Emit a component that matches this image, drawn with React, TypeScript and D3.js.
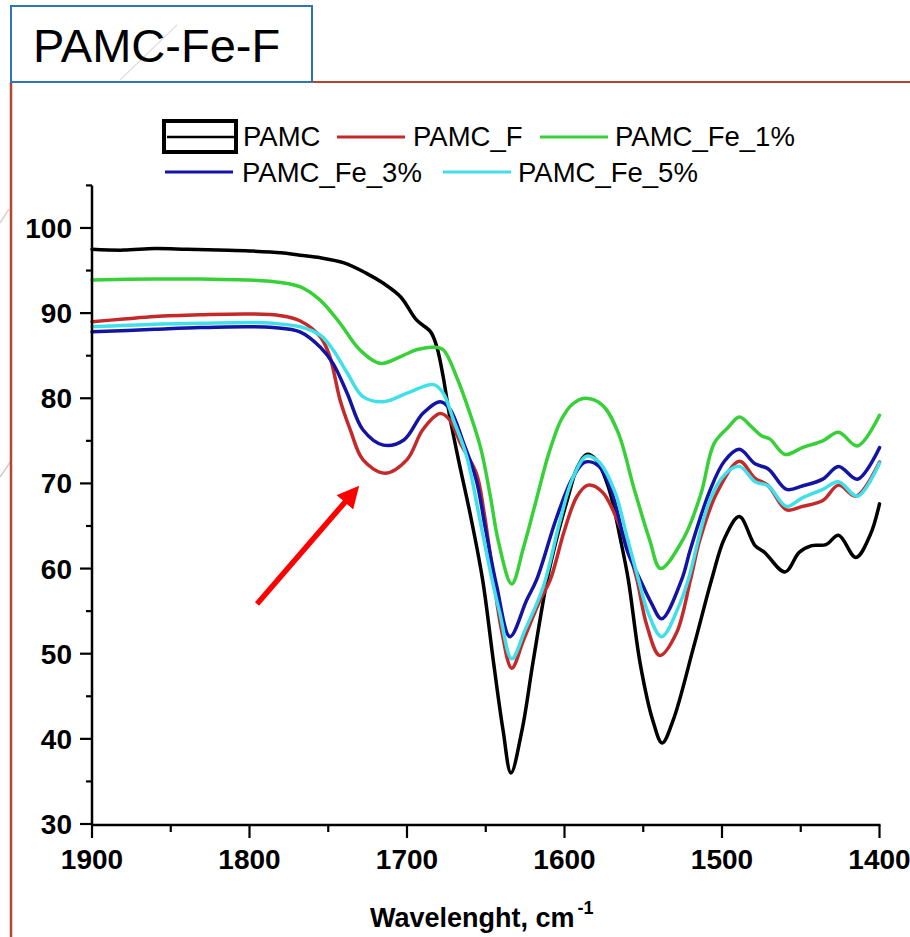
import React from "react";
import * as d3 from "d3";

const X_TICKS = [1900, 1800, 1700, 1600, 1500, 1400];
const X_MINOR = [1850, 1750, 1650, 1550, 1450];
const Y_TICKS = [30, 40, 50, 60, 70, 80, 90, 100];
const Y_MINOR = [35, 45, 55, 65, 75, 85, 95, 105];

const PAMC: [number, number][] = [
  [1900, 97.5], [1880, 97.4], [1860, 97.6], [1840, 97.5], [1820, 97.4], [1800, 97.3], [1780, 97.1],
  [1768, 96.8], [1755, 96.5], [1740, 95.9], [1726, 94.7], [1715, 93.5], [1704, 91.9], [1694, 89.2],
  [1685, 87.8], [1681, 86.0], [1677, 82.5], [1673, 78], [1667, 72.5], [1660, 66.5], [1652, 58.7],
  [1645, 48.9], [1639, 41], [1634, 36.0], [1627, 41], [1620, 49], [1611, 58.7], [1605, 63.5],
  [1598, 68.2], [1592, 71.8], [1586, 73.4], [1580, 72.8], [1572, 69.5], [1564, 63], [1559.5, 58.7],
  [1552, 48.9], [1544, 42.2], [1538, 39.5], [1531, 42.2], [1518, 50.8], [1506, 59.1], [1498.5, 63.5],
  [1489, 66.1], [1479, 62.7], [1473, 61.9], [1460, 59.6], [1451, 61.9], [1443, 62.7], [1434, 62.8],
  [1426, 63.9], [1415, 61.3], [1406, 63.9], [1400, 67.6],
];

const PAMC_F: [number, number][] = [
  [1900, 89.0], [1880, 89.3], [1860, 89.6], [1831, 89.8], [1800, 89.9], [1780, 89.7], [1768, 89.1],
  [1755, 87.2], [1749, 84.9], [1742.5, 79.8], [1736, 76.3], [1728, 72.8], [1714, 71.2], [1700, 72.8],
  [1690, 76.3], [1679, 78.2], [1673, 77.5], [1666, 74.7], [1656, 71.2], [1651, 66.5], [1645, 58.7],
  [1640, 52.8], [1633.5, 48.3], [1626, 51.6], [1615.5, 56.3], [1609, 58.7], [1600, 64.5], [1592, 68.5],
  [1585, 69.8], [1576, 69], [1566, 65.5], [1560, 62.5], [1554, 58.7], [1548, 53.5], [1539.5, 49.8],
  [1529, 52.4], [1520, 58.7], [1514, 63.4], [1503, 69.0], [1489, 72.6], [1479, 70.6], [1471, 69.8],
  [1459, 66.9], [1449, 67.3], [1436, 68.0], [1426, 69.8], [1415, 68.5], [1400, 72.5],
];

const PAMC_FE_1: [number, number][] = [
  [1900, 93.9], [1860, 94.0], [1830, 94.0], [1800, 93.9], [1780, 93.6], [1768, 93.1], [1755, 91.5],
  [1742.5, 88.8], [1730, 85.7], [1717, 84.1], [1704, 84.9], [1694, 85.7], [1683, 86.0], [1677, 85.7],
  [1668.5, 82.5], [1660, 78.2], [1653, 74.0], [1647, 68.4], [1642, 63.2], [1633.5, 58.2], [1626, 62.5],
  [1618, 68], [1610, 73.5], [1602, 77.5], [1595, 79.3], [1587, 80.0], [1576, 79.2], [1566, 76.0],
  [1556, 69.5], [1546, 63.4], [1539, 60.0], [1524.5, 63.5], [1513.5, 68.7], [1505, 74.7], [1496, 76.6],
  [1489, 77.8], [1481, 76.6], [1475, 75.6], [1469.5, 75.2], [1460, 73.4], [1449, 74.2], [1436, 75.0],
  [1426, 76.0], [1414, 74.4], [1400, 78.0],
];

const PAMC_FE_3: [number, number][] = [
  [1900, 87.8], [1860, 88.1], [1831, 88.3], [1800, 88.4], [1785, 88.3], [1768, 87.8], [1755, 86.0],
  [1747, 84.1], [1738, 80.6], [1728, 76.3], [1715, 74.5], [1702, 75.1], [1690, 78.2], [1679, 79.6],
  [1673, 78.8], [1664, 74.7], [1656, 70.4], [1650, 64.5], [1643, 57.9], [1634.6, 52.0], [1624, 56.3],
  [1617.7, 58.7], [1605, 66], [1595, 70.6], [1587, 72.5], [1578, 72], [1570, 69], [1560, 62],
  [1552, 58.7], [1545, 56], [1538.3, 54.1], [1525.6, 58.7], [1520, 62.3], [1508, 69.0], [1498.5, 72.6],
  [1489, 74.0], [1479, 72.3], [1470.6, 71.7], [1459, 69.3], [1449, 69.7], [1436, 70.5], [1426, 72.0],
  [1414, 70.5], [1400, 74.2],
];

const PAMC_FE_5: [number, number][] = [
  [1900, 88.4], [1860, 88.7], [1831, 88.8], [1800, 88.9], [1785, 88.8], [1768, 88.4], [1755, 87.4],
  [1747, 85.7], [1738, 83.0], [1728, 80.2], [1715, 79.6], [1700, 80.6], [1683, 81.6], [1677, 80.6],
  [1670.6, 77.5], [1662, 73.1], [1654, 66], [1646, 58.7], [1641, 54.7], [1633.5, 49.4], [1625, 52.8],
  [1613.4, 57.9], [1603, 65.5], [1595, 70.5], [1586, 73.2], [1578, 72.5], [1568, 69], [1560, 63.5],
  [1553, 58.7], [1546.7, 54.7], [1538.3, 52.0], [1526.7, 55.9], [1521.4, 58.7], [1508, 67.9],
  [1498.5, 71.0], [1489, 72.0], [1479, 70.2], [1470.6, 69.7], [1459, 67.3], [1449, 68.3], [1436, 69.3],
  [1426, 70.2], [1414, 68.5], [1400, 72.4],
];

const SERIES_NAMES = ["PAMC", "PAMC_F", "PAMC_Fe_1%", "PAMC_Fe_3%", "PAMC_Fe_5%"];
const SERIES_DATA = [PAMC, PAMC_F, PAMC_FE_1, PAMC_FE_3, PAMC_FE_5];
const SERIES_COLORS = ["#000000", "#C42A2A", "#38D038", "#1414A4", "#40E0EA"];

const FONT = "'Liberation Sans', Arial, Helvetica, sans-serif";

export default function App() {
  const W = 910, H = 937;
  const x = d3.scaleLinear().domain([1900, 1400]).range([92, 879.5]);
  const y = d3.scaleLinear().domain([30, 105]).range([824, 185.4]);
  const line = d3
    .line<[number, number]>()
    .x((d) => x(d[0]))
    .y((d) => y(d[1]))
    .curve(d3.curveCatmullRom.alpha(0.5));

  const axisY = y(30) + 1;
  const legendItems = [
    { i: 0, lx: 167, tx: 243, ly: 137, ty: 146 },
    { i: 1, lx: 337, tx: 413, ly: 137, ty: 146 },
    { i: 2, lx: 540, tx: 615, ly: 137, ty: 146 },
    { i: 3, lx: 165, tx: 242, ly: 172, ty: 182 },
    { i: 4, lx: 443, tx: 518, ly: 172, ty: 182 },
  ];

  return (
    <svg
      width={W}
      height={H}
      style={{ position: "absolute", left: 0, top: 0, background: "#fff" }}
      fontFamily={FONT}
    >
      <rect x={0} y={0} width={W} height={H} fill="#fff" />
      <line x1={0} y1={223} x2={9} y2={209} stroke="#d6d3cc" strokeWidth={1.5} />
      <line x1={0} y1={477} x2={11} y2={461} stroke="#cfcbc2" strokeWidth={1.5} />
      <line x1={11} y1={82} x2={910} y2={82} stroke="#B8452A" strokeWidth={2} />
      <line x1={11} y1={82} x2={11} y2={937} stroke="#B8452A" strokeWidth={2.5} />
      <rect x={11} y={6} width={301} height={76} fill="#fff" stroke="#2E75B6" strokeWidth={2} />
      <line x1={120} y1={80} x2={177} y2={25} stroke="#e2e0da" strokeWidth={1.2} />
      <text x={33} y={62} fontSize={47} fill="#000">PAMC-Fe-F</text>

      {SERIES_DATA.map((d, i) => (
        <path
          key={SERIES_NAMES[i]}
          d={line(d) || ""}
          fill="none"
          stroke={SERIES_COLORS[i]}
          strokeWidth={3.5}
          strokeLinejoin="round"
          strokeLinecap="round"
        />
      ))}

      <line x1={x(1900)} y1={y(105)} x2={x(1900)} y2={axisY} stroke="#000" strokeWidth={2.5} />
      <line x1={x(1900) - 1} y1={axisY} x2={x(1400) + 1} y2={axisY} stroke="#000" strokeWidth={2.5} />
      {Y_TICKS.map((t) => (
        <g key={"yt" + t}>
          <line x1={x(1900) - 12} x2={x(1900)} y1={y(t)} y2={y(t)} stroke="#000" strokeWidth={2.2} />
          <text x={72} y={y(t) + 10} fontSize={28} fontWeight="bold" textAnchor="end" fill="#000">
            {t}
          </text>
        </g>
      ))}
      {Y_MINOR.map((t) => (
        <line key={"ym" + t} x1={x(1900) - 6} x2={x(1900)} y1={y(t)} y2={y(t)} stroke="#000" strokeWidth={2.2} />
      ))}
      {X_TICKS.map((t) => (
        <g key={"xt" + t}>
          <line x1={x(t)} x2={x(t)} y1={axisY} y2={axisY + 13} stroke="#000" strokeWidth={2.2} />
          <text x={x(t)} y={869} fontSize={28} fontWeight="bold" textAnchor="middle" fill="#000">
            {t}
          </text>
        </g>
      ))}
      {X_MINOR.map((t) => (
        <line key={"xm" + t} x1={x(t)} x2={x(t)} y1={axisY} y2={axisY + 7} stroke="#000" strokeWidth={2.2} />
      ))}
      <text x={370} y={927} fontSize={27} fontWeight="bold" fill="#000">
        Wavelenght, cm
        <tspan fontSize={18} dy={-13} dx={3}>-1</tspan>
      </text>

      <rect x={164} y={121} width={72} height={31} fill="#fff" stroke="#000" strokeWidth={4} />
      {legendItems.map((it) => (
        <g key={"lg" + it.i}>
          <line
            x1={it.lx}
            x2={it.lx + 68}
            y1={it.ly}
            y2={it.ly}
            stroke={SERIES_COLORS[it.i]}
            strokeWidth={it.i === 0 ? 2.5 : 3}
          />
          <text x={it.tx} y={it.ty} fontSize={27.5} fill="#000">
            {SERIES_NAMES[it.i]}
          </text>
        </g>
      ))}

      <defs>
        <marker id="ah" markerWidth="4" markerHeight="4" refX="2" refY="2" orient="auto" markerUnits="strokeWidth">
          <path d="M0,0 L4,2 L0,4 z" fill="#FF0000" />
        </marker>
      </defs>
      <line x1={257} y1={604} x2={352} y2={494} stroke="#FF0000" strokeWidth={5.5} markerEnd="url(#ah)" />
    </svg>
  );
}
